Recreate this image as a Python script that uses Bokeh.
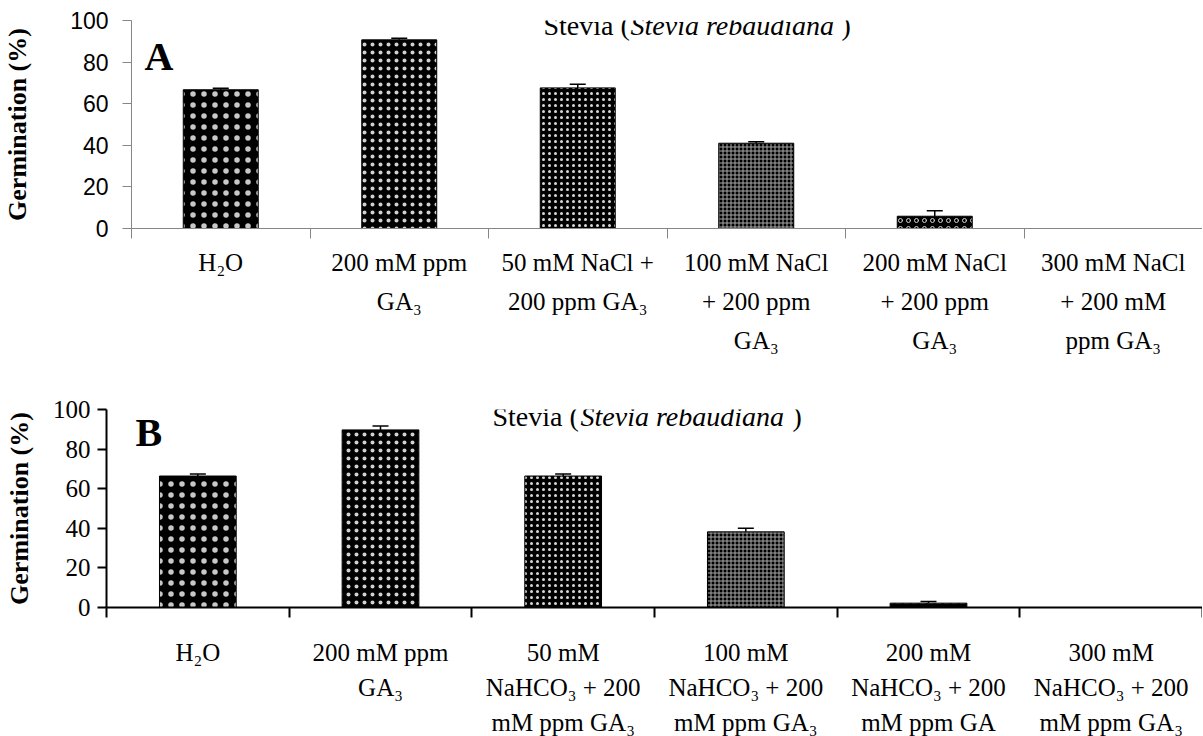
from bokeh.plotting import figure
from bokeh.models import (Range1d, FixedTicker, Label, Whisker, ColumnDataSource,
                          TeeHead, CDSView, BooleanFilter)
from bokeh.embed import file_html
from bokeh.resources import INLINE

# ---------------- data ----------------
labels_a = ["H\u2082O", "200 mM ppm\nGA\u2083", "50 mM NaCl +\n200 ppm GA\u2083",
            "100 mM NaCl\n+ 200 ppm\nGA\u2083", "200 mM NaCl\n+ 200 ppm\nGA\u2083",
            "300 mM NaCl\n+ 200 mM\nppm GA\u2083"]
values_a = [66.7, 90.7, 67.6, 41.0, 5.9, 0.0]
errors_a = [0.7, 0.8, 1.8, 0.7, 2.6, 0.0]

labels_b = ["H\u2082O", "200 mM ppm\nGA\u2083", "50 mM\nNaHCO\u2083 + 200\nmM ppm GA\u2083",
            "100 mM\nNaHCO\u2083 + 200\nmM ppm GA\u2083", "200 mM\nNaHCO\u2083 + 200\nmM ppm GA",
            "300 mM\nNaHCO\u2083 + 200\nmM ppm GA\u2083"]
values_b = [66.4, 89.7, 66.4, 38.2, 2.2, 0.0]
errors_b = [1.0, 2.0, 1.0, 1.8, 0.8, 0.0]

y_ticks = [0, 20, 40, 60, 80, 100]
y_label = "Germination (%)"

# ---------------- styles ----------------
pat_a = dict(pat=["dot", "dot", "dot", "cross", "ring", "dot"],
             hs=[11, 8, 6, 4, 8, 8], hw=[1, 1, 1, 1, 1, 1],
             hc=["#c8c8c8", "#d0d0d0", "#d8d8d8", "#a8a8a8", "#d0d0d0", "#d0d0d0"])
pat_b = dict(pat=["dot", "dot", "dot", "cross", "horizontal_dash", "dot"],
             hs=[11, 8, 6, 4, 8, 8], hw=[1, 1, 1, 1, 1, 1],
             hc=["#c8c8c8", "#d0d0d0", "#d8d8d8", "#a8a8a8", "#d0d0d0", "#d0d0d0"])

SERIF = "Liberation Serif"
SANS = "Liberation Sans"


def build(labels, values, errors, pats, *, fw, fh, left, top, bottom,
          axis_color, axis_w, ytick_font, ytick_size, ytick_standoff,
          xlab_size, xlab_lh, xlab_standoff, ylab_standoff,
          letter, letter_dx, letter_dy, title_parts, title_dy):
    n = len(labels)
    centers = [i + 0.5 for i in range(n)]
    p = figure(frame_width=fw, frame_height=fh, x_range=Range1d(0, n), y_range=Range1d(0, 100),
               output_backend="svg", toolbar_location=None,
               min_border_left=left, min_border_right=0, min_border_top=top,
               min_border_bottom=bottom)
    p.outline_line_color = None
    p.grid.visible = False

    src = ColumnDataSource(dict(x=centers, top=values,
                                pat=pats["pat"], hs=pats["hs"], hw=pats["hw"], hc=pats["hc"]))
    view = CDSView(filter=BooleanFilter([v > 0 for v in values]))
    p.vbar(x="x", top="top", bottom=0, width=0.42, source=src, view=view,
           fill_color="black", line_color="black", line_width=1,
           hatch_pattern="pat", hatch_scale="hs", hatch_weight="hw",
           hatch_color="hc")

    esrc = ColumnDataSource(dict(x=[c for c, e in zip(centers, errors) if e > 0],
                                 lower=[v for v, e in zip(values, errors) if e > 0],
                                 upper=[v + e for v, e in zip(values, errors) if e > 0]))
    p.add_layout(Whisker(base="x", lower="lower", upper="upper", source=esrc,
                         line_color="black", line_width=1.5, lower_head=None,
                         upper_head=TeeHead(size=16, line_color="black", line_width=1.5)))

    xa = p.xaxis[0]
    xa.ticker = FixedTicker(ticks=centers, minor_ticks=list(range(n + 1)))
    xa.major_label_overrides = {c: lab for c, lab in zip(centers, labels)}
    xa.major_tick_out = 0
    xa.major_tick_in = 0
    xa.minor_tick_out = 10
    xa.minor_tick_in = 0
    xa.minor_tick_line_color = axis_color
    xa.minor_tick_line_width = axis_w
    xa.axis_line_color = axis_color
    xa.axis_line_width = axis_w
    xa.major_label_text_font = SERIF
    xa.major_label_text_font_size = f"{xlab_size}px"
    xa.major_label_text_color = "black"
    xa.major_label_text_line_height = xlab_lh
    xa.major_label_standoff = xlab_standoff
    xa.major_label_orientation = "horizontal"

    ya = p.yaxis[0]
    ya.ticker = FixedTicker(ticks=y_ticks, minor_ticks=[])
    ya.major_tick_out = 9
    ya.major_tick_in = 0
    ya.minor_tick_out = 0
    ya.minor_tick_in = 0
    ya.major_tick_line_color = axis_color
    ya.major_tick_line_width = axis_w
    ya.axis_line_color = axis_color
    ya.axis_line_width = axis_w
    ya.major_label_text_font = ytick_font
    ya.major_label_text_font_size = f"{ytick_size}px"
    ya.major_label_text_color = "black"
    ya.major_label_standoff = ytick_standoff
    ya.axis_label = y_label
    ya.axis_label_text_font = SERIF
    ya.axis_label_text_font_style = "bold"
    ya.axis_label_text_font_size = "26px"
    ya.axis_label_text_color = "black"
    ya.axis_label_standoff = ylab_standoff

    p.add_layout(Label(x=0, y=100, x_offset=letter_dx, y_offset=-letter_dy, text=letter,
                       text_font=SERIF, text_font_style="bold", text_font_size="40px",
                       text_color="black", text_baseline="middle", text_align="left"))
    for txt, dx, style in title_parts:
        p.add_layout(Label(x=0, y=100, x_offset=dx, y_offset=-title_dy, text=txt,
                           text_font=SERIF, text_font_style=style, text_font_size="28px",
                           text_color="black", text_baseline="middle", text_align="left"))
    return p


pA = build(labels_a, values_a, errors_a, pat_a, fw=1071, fh=208, left=131, top=20, bottom=162,
           axis_color="#868686", axis_w=1, ytick_font=SANS, ytick_size=23,
           ytick_standoff=14, xlab_size=25, xlab_lh=1.45, xlab_standoff=10, ylab_standoff=35,
           letter="A", letter_dx=13, letter_dy=36,
           title_parts=[("Stevia (", 412, "normal"), ("Stevia rebaudiana", 499, "italic"),
                        (")", 710, "normal")], title_dy=5)

pB = build(labels_b, values_b, errors_b, pat_b, fw=1096, fh=198, left=106, top=19, bottom=129,
           axis_color="black", axis_w=2, ytick_font=SERIF, ytick_size=25, ytick_standoff=7,
           xlab_size=25, xlab_lh=1.3, xlab_standoff=21, ylab_standoff=16,
           letter="B", letter_dx=29, letter_dy=23,
           title_parts=[("Stevia (", 386, "normal"), ("Stevia rebaudiana", 474, "italic"),
                        (")", 686, "normal")], title_dy=7)

open("out.html", "w").write(file_html([pA, pB], INLINE))
